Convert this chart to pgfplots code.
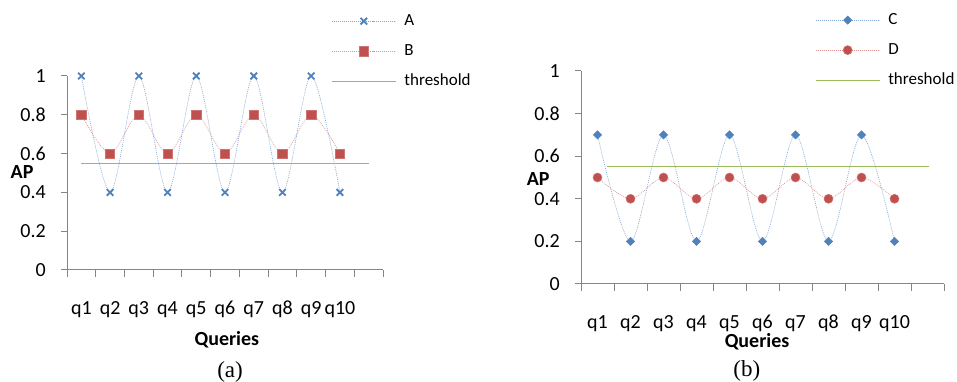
\documentclass[border=0pt]{standalone}
\usepackage{fontspec}
\setmainfont{Carlito}
\newfontfamily\tnr{Liberation Serif}
\usepackage{pgfplots}
\pgfplotsset{compat=1.18}
\definecolor{xblue}{HTML}{4F81BD}
\definecolor{xred}{HTML}{C0504D}
\definecolor{xgreen}{RGB}{155,187,89}
\definecolor{xgray}{HTML}{868686}
\pgfdeclareplotmark{xcap}{%
  \pgfpathmoveto{\pgfqpoint{-\pgfplotmarksize}{-\pgfplotmarksize}}%
  \pgfpathlineto{\pgfqpoint{\pgfplotmarksize}{\pgfplotmarksize}}%
  \pgfpathmoveto{\pgfqpoint{-\pgfplotmarksize}{\pgfplotmarksize}}%
  \pgfpathlineto{\pgfqpoint{\pgfplotmarksize}{-\pgfplotmarksize}}%
  \pgfusepathqstroke}
\pgfplotsset{
  myaxis/.style={
    scale only axis,
    axis lines*=left,
    axis line style={xgray, line width=1pt, -},
    xmin=0.5, xmax=11.5, ymin=0, ymax=1,
    ytick={0,0.2,0.4,0.6,0.8,1},
    xtick={1,...,10},
    xticklabels={q1,q2,q3,q4,q5,q6,q7,q8,q9,q10},
    minor xtick={0.5,1.5,...,11.5},
    major x tick style={draw=none},
    tick style={xgray, line width=1pt},
    tick align=outside,
    major tick length=6pt,
    minor tick length=7pt,
    /pgf/number format/assume math mode=true,
    ticklabel style={font=\fontsize{20}{24}\selectfont},
    yticklabel style={anchor=east, inner sep=0pt, xshift=-15pt},
    xticklabel style={anchor=base, inner sep=0pt},
    label style={font=\fontsize{20}{24}\selectfont\bfseries},
    legend style={draw=none, fill=none, font=\fontsize{17}{20}\selectfont,
      nodes={inner sep=0pt, text height=11pt, text depth=3pt, anchor=west},
      row sep=16pt, column sep=0pt, legend cell align=left},
    /tikz/every odd column/.append style={column sep=8pt},
    legend image code/.code={\draw[mark repeat=2,mark phase=2,##1] plot coordinates {(0pt,0pt) (32pt,0pt) (64pt,0pt)};},
    clip=false,
  },
  serline/.style={smooth, line width=0.6pt, dash pattern=on 1pt off 1pt},
  thr/.style={draw=xgreen, color=xgreen, line width=1.2pt, solid, no marks},
  sA/.style={serline, color=xblue!70, mark=xcap, mark size=3.3pt, mark options={solid, draw=xblue, line width=1.8pt}},
  sB/.style={serline, color=xred!60, mark=square*, mark size=4.7pt, mark options={solid, xred, draw=xred!80}},
  sC/.style={serline, color=xblue!70, mark=square*, mark size=2.9pt, mark options={solid, xblue, rotate=45}},
  sD/.style={serline, color=xred!60, mark=*, mark size=4.5pt, mark options={solid, xred, draw=xred!80}},
}
\begin{document}
\begin{tikzpicture}[x=1pt,y=1pt]
\useasboundingbox (0,0) rectangle (957,382);
% ---------- (b) ----------
\begin{axis}[myaxis,
  at={(581pt,98pt)}, anchor=origin, width=363pt, height=213pt,
  xticklabel style={yshift=-38pt},
  xlabel={Queries}, ylabel={AP},
  xlabel style={at={(axis description cs:0.485,-0.272)}, anchor=center},
  ylabel style={at={(axis description cs:-0.118,0.493)}, anchor=center, rotate=-90},
  legend style={at={(axis description cs:0.636,1.282)}, anchor=north west},
]
\addplot[thr, forget plot] coordinates {(1.3,0.55) (11.05,0.55)};
\addplot[sC, forget plot]
  coordinates {(1,0.7) (2,0.2) (3,0.7) (4,0.2) (5,0.7) (6,0.2) (7,0.7) (8,0.2) (9,0.7) (10,0.2)};
\addplot[sD, forget plot]
  coordinates {(1,0.5) (2,0.4) (3,0.5) (4,0.4) (5,0.5) (6,0.4) (7,0.5) (8,0.4) (9,0.5) (10,0.4)};
\addlegendimage{sC}\addlegendentry{C}
\addlegendimage{sD}\addlegendentry{D}
\addlegendimage{thr}\addlegendentry{threshold}
\node[font=\tnr\fontsize{23}{26}\selectfont] at (axis description cs:0.457,-0.408) {(b)};
\end{axis}
% ---------- (a) ----------
\begin{axis}[myaxis,
  at={(67pt,112pt)}, anchor=origin, width=316pt, height=194pt,
  xticklabel style={yshift=-38pt},
  xlabel={Queries}, ylabel={AP},
  xlabel style={at={(axis description cs:0.506,-0.361)}, anchor=center},
  ylabel style={at={(axis description cs:-0.142,0.505)}, anchor=center, rotate=-90},
  legend style={at={(axis description cs:0.826,1.33)}, anchor=north west},
]
\addplot[sA, forget plot]
  coordinates {(1,1) (2,0.4) (3,1) (4,0.4) (5,1) (6,0.4) (7,1) (8,0.4) (9,1) (10,0.4)};
\addplot[sB, forget plot]
  coordinates {(1,0.8) (2,0.6) (3,0.8) (4,0.6) (5,0.8) (6,0.6) (7,0.8) (8,0.6) (9,0.8) (10,0.6)};
\addlegendimage{sA}\addlegendentry{A}
\addlegendimage{sB}\addlegendentry{B}
\addlegendimage{thr}\addlegendentry{threshold}
\node[font=\tnr\fontsize{23}{26}\selectfont] at (axis description cs:0.516,-0.526) {(a)};
\end{axis}
% ---------- threshold of (a), in an overlay axis with the same geometry ----------
\begin{axis}[scale only axis, at={(67pt,112pt)}, anchor=origin, width=316pt, height=194pt,
  xmin=0.5, xmax=11.5, ymin=0, ymax=1, hide axis, clip=false]
\addplot[thr] coordinates {(1,0.55) (11,0.55)};
\end{axis}
\end{tikzpicture}
\end{document}
